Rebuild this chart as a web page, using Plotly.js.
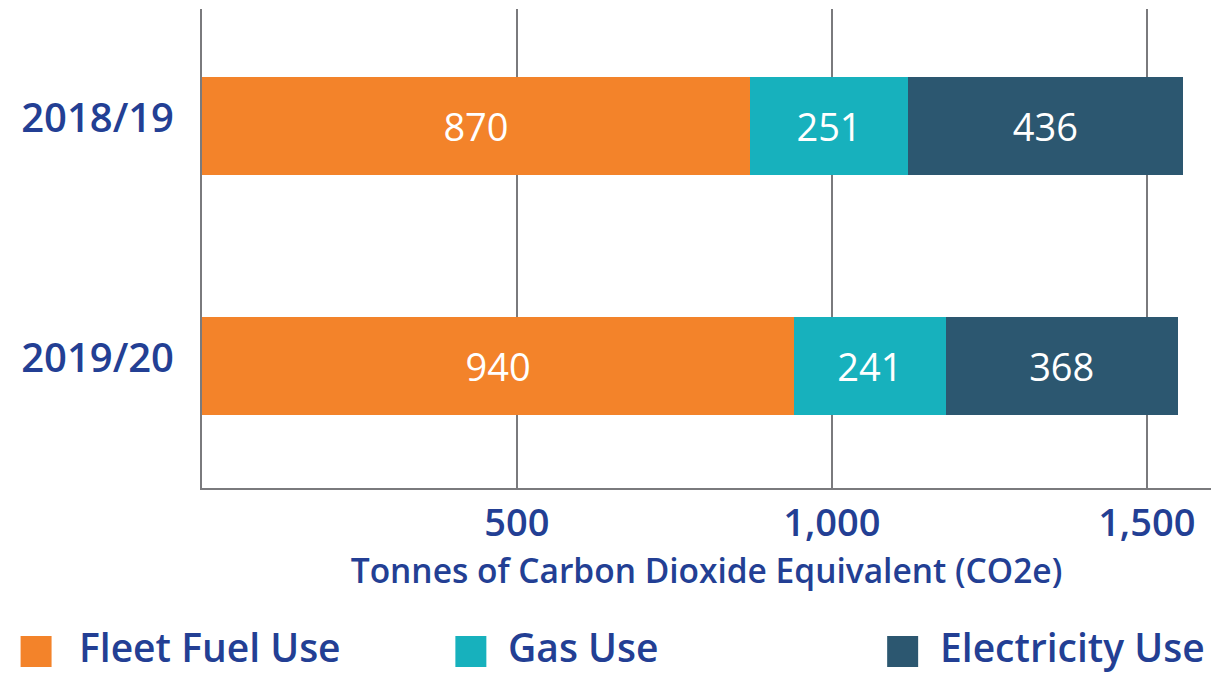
<!DOCTYPE html>
<html>
<head>
<meta charset="utf-8">
<script src="https://cdn.plot.ly/plotly-3.0.1.min.js"></script>
<style>html,body{margin:0;padding:0;background:#fff;}#chart{width:1227px;height:674px;}</style>
</head>
<body>
<div id="chart"></div>
<script>
const categories = ["2018/19", "2019/20"];
const seriesNames = ["Fleet Fuel Use", "Gas Use", "Electricity Use"];
const fleetFuel = [870, 940];
const gasUse = [251, 241];
const electricity = [436, 368];
const xTickValues = [500, 1000, 1500];
const xTickLabels = ["500", "1,000", "1,500"];
const xTitle = "Tonnes of Carbon Dioxide Equivalent (CO2e)";

const colors = ["#F3832A", "#17B1BD", "#2C5770"];
const textBlue = "#233F94";
const gridGray = "#7A7A7D";
const FONT = "Open Sans, Noto Sans, sans-serif";

const seriesValues = [fleetFuel, gasUse, electricity];
const traces = seriesValues.map((vals, i) => ({
  type: "bar",
  orientation: "h",
  name: seriesNames[i],
  y: categories,
  x: vals,
  width: 0.41,
  marker: {color: colors[i], line: {width: 0}},
  text: vals.map(v => String(v)),
  textposition: "inside",
  insidetextanchor: "middle",
  textfont: {family: FONT, size: 38, color: "#FFFFFF", weight: 500},
  hoverinfo: "x+name",
  showlegend: false
}));

// Legend drawn as shapes + annotations in paper coordinates
const shapes = [];
const annotations = [];
const plotL = 201.5, plotR = 1211, plotW = plotR - plotL;
const plotT = 9, plotB = 488, plotH = plotB - plotT;
const legendSquareLeftPx = [20, 455, 887];
const legendTextLeftPx = [77, 507, 939];
for (let i = 0; i < seriesNames.length; i++) {
  shapes.push({
    type: "rect", xref: "paper", yref: "paper",
    x0: (legendSquareLeftPx[i] - plotL) / plotW,
    x1: (legendSquareLeftPx[i] + 31 - plotL) / plotW,
    y0: (plotB - 667) / plotH, y1: (plotB - 636) / plotH,
    fillcolor: colors[i], line: {width: 0}
  });
  annotations.push({
    xref: "paper", yref: "paper",
    x: (legendTextLeftPx[i] - plotL) / plotW,
    y: (plotB - 646) / plotH,
    xanchor: "left", yanchor: "middle",
    text: seriesNames[i], showarrow: false, borderpad: 0,
    font: {family: FONT, size: 39, color: textBlue, weight: 600}
  });
}

const layout = {
  width: 1227, height: 674,
  margin: {l: plotL, r: 1227 - plotR, t: plotT, b: 674 - plotB, pad: 0},
  paper_bgcolor: "#FFFFFF", plot_bgcolor: "#FFFFFF",
  barmode: "stack",
  showlegend: false,
  xaxis: {
    range: [0, 1602],
    tickvals: xTickValues,
    ticktext: xTickLabels,
    showgrid: true, gridcolor: gridGray, gridwidth: 2,
    zeroline: false,
    showline: true, linecolor: gridGray, linewidth: 2,
    ticks: "",
    ticklabelstandoff: 0,
    tickfont: {family: FONT, size: 38, color: textBlue, weight: 600},
    title: {text: xTitle, standoff: 6, font: {family: FONT, size: 33.5, color: textBlue, weight: 600}},
    fixedrange: true
  },
  yaxis: {
    type: "category",
    range: [1.508, -0.4875],
    showgrid: false, zeroline: false,
    showline: true, linecolor: gridGray, linewidth: 2,
    ticks: "",
    ticklabelstandoff: 18,
    ticklabelshift: 8,
    tickfont: {family: FONT, size: 40, color: textBlue, weight: 600},
    fixedrange: true
  },
  shapes: shapes,
  annotations: annotations
};

Plotly.newPlot("chart", traces, layout, {displayModeBar: false, staticPlot: true});
</script>
</body>
</html>
